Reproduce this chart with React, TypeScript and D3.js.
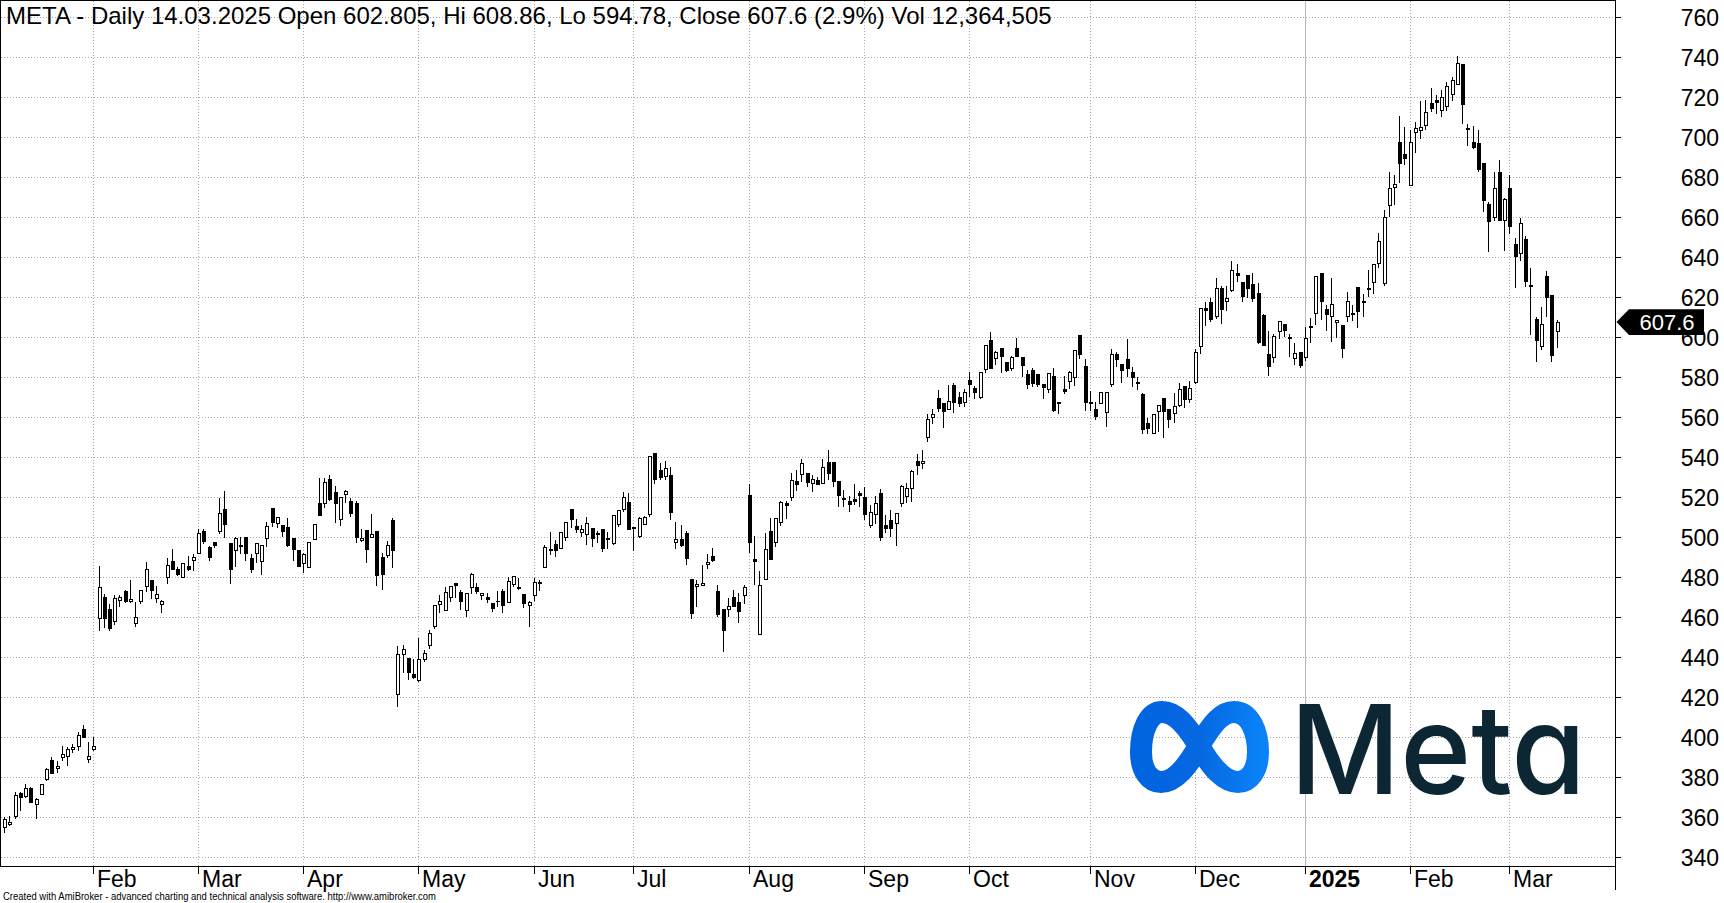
import React from 'react';
import * as d3 from 'd3';

const dates: string[] = [
  '2024-01-08','2024-01-09','2024-01-10','2024-01-11','2024-01-12','2024-01-16','2024-01-17','2024-01-18','2024-01-19','2024-01-22','2024-01-23','2024-01-24','2024-01-25','2024-01-26','2024-01-29','2024-01-30','2024-01-31',
  '2024-02-01','2024-02-02','2024-02-05','2024-02-06','2024-02-07','2024-02-08','2024-02-09','2024-02-12','2024-02-13','2024-02-14','2024-02-15','2024-02-16','2024-02-20','2024-02-21','2024-02-22','2024-02-23','2024-02-26','2024-02-27','2024-02-28','2024-02-29',
  '2024-03-01','2024-03-04','2024-03-05','2024-03-06','2024-03-07','2024-03-08','2024-03-11','2024-03-12','2024-03-13','2024-03-14','2024-03-15','2024-03-18','2024-03-19','2024-03-20','2024-03-21','2024-03-22','2024-03-25','2024-03-26','2024-03-27','2024-03-28',
  '2024-04-01','2024-04-02','2024-04-03','2024-04-04','2024-04-05','2024-04-08','2024-04-09','2024-04-10','2024-04-11','2024-04-12','2024-04-15','2024-04-16','2024-04-17','2024-04-18','2024-04-19','2024-04-22','2024-04-23','2024-04-24','2024-04-25','2024-04-26','2024-04-29','2024-04-30',
  '2024-05-01','2024-05-02','2024-05-03','2024-05-06','2024-05-07','2024-05-08','2024-05-09','2024-05-10','2024-05-13','2024-05-14','2024-05-15','2024-05-16','2024-05-17','2024-05-20','2024-05-21','2024-05-22','2024-05-23','2024-05-24','2024-05-28','2024-05-29','2024-05-30','2024-05-31',
  '2024-06-03','2024-06-04','2024-06-05','2024-06-06','2024-06-07','2024-06-10','2024-06-11','2024-06-12','2024-06-13','2024-06-14','2024-06-17','2024-06-18','2024-06-20','2024-06-21','2024-06-24','2024-06-25','2024-06-26','2024-06-27','2024-06-28',
  '2024-07-01','2024-07-02','2024-07-03','2024-07-05','2024-07-08','2024-07-09','2024-07-10','2024-07-11','2024-07-12','2024-07-15','2024-07-16','2024-07-17','2024-07-18','2024-07-19','2024-07-22','2024-07-23','2024-07-24','2024-07-25','2024-07-26','2024-07-29','2024-07-30','2024-07-31',
  '2024-08-01','2024-08-02','2024-08-05','2024-08-06','2024-08-07','2024-08-08','2024-08-09','2024-08-12','2024-08-13','2024-08-14','2024-08-15','2024-08-16','2024-08-19','2024-08-20','2024-08-21','2024-08-22','2024-08-23','2024-08-26','2024-08-27','2024-08-28','2024-08-29','2024-08-30',
  '2024-09-03','2024-09-04','2024-09-05','2024-09-06','2024-09-09','2024-09-10','2024-09-11','2024-09-12','2024-09-13','2024-09-16','2024-09-17','2024-09-18','2024-09-19','2024-09-20','2024-09-23','2024-09-24','2024-09-25','2024-09-26','2024-09-27','2024-09-30',
  '2024-10-01','2024-10-02','2024-10-03','2024-10-04','2024-10-07','2024-10-08','2024-10-09','2024-10-10','2024-10-11','2024-10-14','2024-10-15','2024-10-16','2024-10-17','2024-10-18','2024-10-21','2024-10-22','2024-10-23','2024-10-24','2024-10-25','2024-10-28','2024-10-29','2024-10-30','2024-10-31',
  '2024-11-01','2024-11-04','2024-11-05','2024-11-06','2024-11-07','2024-11-08','2024-11-11','2024-11-12','2024-11-13','2024-11-14','2024-11-15','2024-11-18','2024-11-19','2024-11-20','2024-11-21','2024-11-22','2024-11-25','2024-11-26','2024-11-27','2024-11-29',
  '2024-12-02','2024-12-03','2024-12-04','2024-12-05','2024-12-06','2024-12-09','2024-12-10','2024-12-11','2024-12-12','2024-12-13','2024-12-16','2024-12-17','2024-12-18','2024-12-19','2024-12-20','2024-12-23','2024-12-24','2024-12-26','2024-12-27','2024-12-30','2024-12-31',
  '2025-01-02','2025-01-03','2025-01-06','2025-01-07','2025-01-08','2025-01-10','2025-01-13','2025-01-14','2025-01-15','2025-01-16','2025-01-17','2025-01-21','2025-01-22','2025-01-23','2025-01-24','2025-01-27','2025-01-28','2025-01-29','2025-01-30','2025-01-31',
  '2025-02-03','2025-02-04','2025-02-05','2025-02-06','2025-02-07','2025-02-10','2025-02-11','2025-02-12','2025-02-13','2025-02-14','2025-02-18','2025-02-19','2025-02-20','2025-02-21','2025-02-24','2025-02-25','2025-02-26','2025-02-27','2025-02-28',
  '2025-03-03','2025-03-04','2025-03-05','2025-03-06','2025-03-07','2025-03-10','2025-03-11','2025-03-12','2025-03-13','2025-03-14',
];

const openPrices: number[] = [
  355, 356.5, 360.3, 372, 370.3, 374.2, 366.5, 371.5, 378.8, 388.2,
  384.3, 389.8, 390.3, 394, 395.2, 403.7, 388.8, 393.8, 459.5, 470,
  464, 457.8, 468.5, 473, 467.8, 457, 467.8, 475.3, 478.2, 469.3,
  466.5, 480, 488, 483.7, 480, 485.3, 488.3, 492, 503, 495,
  497.5, 502.8, 514, 497, 493.2, 495.7, 500, 489.2, 492, 488,
  499.5, 514.5, 507, 505.7, 505, 499.2, 493.2, 487, 485, 499,
  516.7, 517, 529, 522.3, 509, 521.2, 517.7, 516.7, 498.2, 503.2,
  500, 502.7, 489.7, 491, 508.2, 421.5, 441.5, 439.5, 431.2, 428.3,
  439, 446, 455.3, 466.5, 463.5, 470, 477, 472.5, 463.5, 475,
  475, 471, 470, 467, 468.1, 472.8, 467.3, 476.3, 474.7, 471.5,
  466, 471, 477.4, 484.7, 493.7, 496.2, 494.2, 500, 514, 505.3,
  502.5, 501.5, 504.5, 501.8, 503.7, 499.2, 496.8, 506.5, 514, 517.2,
  505, 500.3, 506.5, 511.5, 542, 533.5, 530.3, 531, 497.3, 498.7,
  501.7, 479, 475.2, 475.8, 486.3, 490.2, 472.7, 463.7, 464, 469.8,
  467.2, 471, 520.8, 489, 451.5, 479, 503, 497.5, 507.5, 517,
  519.8, 528, 531.5, 532, 527, 528.5, 527, 537.3, 537.3, 527.7,
  519.2, 517.8, 519, 521.7, 519.7, 506, 511.5, 522, 506, 508.2,
  507, 517, 520.3, 524.3, 537.7, 536.8, 550, 560, 569.3, 566.7,
  564, 575.7, 570, 567.5, 578.2, 574.5, 570, 583.7, 598.2, 589.5,
  594.2, 587.5, 584.5, 594.2, 590, 581.2, 583.2, 581.2, 576.2, 574,
  580.3, 567.5, 574, 577.8, 580, 601, 585.2, 567.5, 564, 567,
  562.3, 576.2, 591.5, 586.2, 588.7, 582.5, 577.2, 571.2, 557, 552,
  562.8, 569.5, 563.7, 562, 565.8, 575.3, 569, 577.5, 595.5, 614.2,
  617.5, 610.3, 624.2, 617.8, 623.3, 632, 627.5, 630.7, 626.5, 621.7,
  610.8, 591.2, 590, 602.8, 606.2, 600, 589.2, 592.5, 590, 604.8,
  612, 632, 613.7, 610.5, 607.5, 605.8, 610.5, 611.8, 624.7, 617.8,
  624.2, 627.5, 636.7, 627, 665.8, 675, 697.2, 691.2, 675.8, 702.5,
  703.3, 705.8, 717, 718.5, 713.3, 715.5, 721.3, 726.3, 736.2, 704.5,
  697.5, 697, 686.7, 666.2, 659.7, 682.5, 658.3, 674.2, 646.2, 641.7,
  648.7, 625.5, 608.7, 595.5, 630.2, 620.7, 602.805,
];

const highPrices: number[] = [
  360, 360.7, 372.8, 372.8, 376.7, 375, 369.5, 376.7, 384.5, 390,
  388.2, 395.7, 395.3, 396.7, 402.7, 406.2, 397.7, 400, 485.7, 471.6,
  466.6, 471.2, 471.2, 473.5, 478.7, 467.5, 473.8, 487.8, 478.5, 475.8,
  468.6, 489.8, 494.3, 485.3, 487.3, 490.7, 491.5, 504, 504, 495.5,
  497.8, 519.7, 523, 497.3, 500.3, 500.3, 500.3, 491.7, 497, 496.3,
  507.8, 514.5, 509.7, 505.7, 509.5, 499.2, 493.5, 492, 497.8, 506.8,
  529.5, 529.5, 531.2, 525.7, 520.3, 523.7, 519.5, 518.2, 504, 503.5,
  511.7, 503, 492, 498.2, 509.5, 445.7, 446.2, 439.5, 439, 449.5,
  443.7, 453.7, 465.9, 471.2, 475.3, 475.8, 477, 473.7, 472.3, 482,
  477, 472.3, 472, 467, 473.2, 474, 480.3, 480.8, 479.8, 471.5,
  468.2, 479.5, 478.8, 496.2, 502.5, 498.7, 502.8, 507.8, 514.3, 509,
  506.2, 510, 504.8, 503.3, 504, 502.8, 510.9, 513.5, 522.8, 522,
  505.3, 510, 510.5, 540.7, 542.3, 537, 538.3, 535.3, 507.7, 506.2,
  503.3, 479.3, 478.7, 486.2, 491.7, 494.7, 476.2, 464, 469.8, 473.7,
  472, 476.3, 526.7, 500.5, 483.2, 502, 509.5, 509.5, 518.2, 518.3,
  532, 533.7, 539.2, 532.2, 531.2, 530.3, 539, 543.7, 537.5, 528,
  523.7, 520.7, 526.7, 523.3, 525, 516.2, 520.8, 524, 511.2, 513.7,
  512.3, 526.2, 527.3, 533.7, 541.7, 543.7, 561.7, 564, 573.7, 567,
  576.2, 577, 572.8, 574, 582.8, 575.7, 582.8, 596.2, 602.8, 593.3,
  594.5, 587.8, 590.7, 599.5, 590.3, 583.7, 584.5, 581.2, 576.5, 582.3,
  584.5, 567.8, 580.7, 583.2, 593.5, 601.3, 589, 573.3, 567.8, 572.8,
  572.5, 594.2, 592.5, 586.5, 599.2, 585.3, 580, 572, 559.5, 561.4,
  565.9, 569.8, 563.9, 572, 577, 575.5, 578.2, 594.2, 614.5, 617.5,
  619.5, 629.7, 625.8, 625.5, 638.3, 636.7, 627.8, 631.2, 632.2, 627.2,
  611.7, 603.3, 601.7, 608, 606.4, 601.7, 597.2, 592.8, 605, 609.7,
  630.8, 632.3, 616.2, 629.7, 608.8, 606, 622.8, 616.2, 625, 621.7,
  633.8, 636.5, 652.2, 663.8, 682.5, 681.2, 710.5, 705, 703.7, 707.8,
  718.3, 718.8, 724.7, 721.2, 723.7, 727.5, 730, 740.5, 736.7, 706.7,
  705.5, 703.7, 687.2, 667.5, 682.5, 688.7, 669.7, 681.2, 649.5, 659.5,
  650.8, 634.7, 610.3, 615, 633.3, 621, 608.86,
];

const lowPrices: number[] = [
  352.3, 355.7, 359.3, 363.3, 369.5, 367, 359, 371.2, 378.3, 381.5,
  382.3, 388.3, 385.8, 392, 393.3, 399.5, 387.3, 393.3, 453.3, 454.5,
  453.3, 456.2, 465.3, 467, 467, 455.3, 466.5, 472.5, 469.3, 467,
  462.3, 476.5, 483.7, 480.8, 479.8, 483.2, 483, 491.7, 496.8, 488.3,
  494.5, 501.5, 499.8, 476.5, 485, 491.5, 488.3, 482, 487.3, 481.2,
  495.3, 505, 504.8, 500.3, 495.3, 488.3, 485, 482, 484.8, 498.8,
  510.5, 514.8, 518.3, 507, 505.7, 517.3, 510, 497.3, 497.5, 487.3,
  499.8, 475.8, 473.8, 489.5, 484.8, 415, 432, 428.7, 429.3, 427.5,
  437.8, 444.3, 454, 462, 463.3, 467.8, 469.8, 463.5, 460.3, 471.5,
  471.5, 468.7, 467.3, 462.8, 465, 462, 467.3, 475.3, 473.7, 464.8,
  455, 468.3, 473.3, 484.5, 491.2, 490.3, 494, 498.3, 504.5, 502,
  500.3, 496, 495.3, 497, 492.5, 494.2, 496.2, 505, 512.5, 503.5,
  493.3, 499.5, 506.2, 510.3, 526.7, 528.7, 528.7, 508.7, 494.2, 495.3,
  486.2, 459.3, 465, 475.5, 484.2, 487.5, 460.3, 442.8, 460, 465,
  457, 466.8, 492.3, 476.2, 451.3, 478.8, 488.8, 495, 505.8, 509.2,
  518.3, 523.3, 527.8, 525.3, 522.8, 526, 526.8, 528.7, 525.3, 515.3,
  515.3, 512.8, 516.2, 515.3, 508.7, 504.5, 506.7, 498.3, 502.3, 500.3,
  495.8, 515, 517.3, 517.8, 531.2, 534.2, 547.5, 556.5, 562.8, 554.5,
  563.8, 562.3, 565.3, 565.3, 570.3, 569.2, 569.2, 582, 584.3, 586.2,
  582, 582.8, 583.2, 590, 580.3, 574.2, 575.3, 575.3, 569.2, 572.3,
  562.5, 561.7, 571.7, 574.2, 575.8, 589.2, 563.3, 563.2, 558.7, 566.7,
  555.3, 575.3, 585.3, 577, 580.3, 575.3, 573.7, 551.5, 551.5, 551.7,
  552.8, 549.5, 554.8, 557, 565.3, 564.5, 567.3, 576.7, 591.7, 605.8,
  607.8, 609.2, 606.7, 613.3, 622.5, 627.8, 617.5, 619.5, 617.5, 596.7,
  595.5, 580.8, 587, 599.2, 600, 590.3, 586.2, 584.5, 588.3, 597,
  606, 608.8, 603.3, 597.8, 599.5, 589.5, 607.8, 608.3, 604.5, 610,
  620, 621.7, 634.5, 625.8, 660, 666.2, 677.2, 686.2, 675.5, 692,
  699.2, 703.8, 712.5, 711.7, 710, 713.3, 718.3, 726, 706.7, 695.5,
  694.2, 682.8, 662.8, 642.5, 658.3, 658, 643.3, 651.7, 624.5, 638.3,
  625, 601.2, 587.5, 593.8, 610, 587.5, 594.78,
];

const closePrices: number[] = [
  359, 357.5, 370.7, 369.8, 374.5, 367.3, 368.7, 376.2, 383.7, 381.8,
  385.5, 391.2, 393.7, 394.7, 401, 399.8, 390.2, 395.2, 475, 459.5,
  454.3, 469.3, 470, 467.8, 469, 460, 473.5, 484, 473.3, 471.5,
  468, 486, 484, 481.3, 487, 484, 490, 502, 497.8, 490,
  496, 512, 506.2, 483.7, 499.5, 495.3, 492, 484, 496.8, 496,
  505.5, 507.3, 509.7, 502.8, 495.7, 493.8, 485.3, 491.5, 497.5, 506.5,
  510.8, 527.5, 518.7, 516.7, 520, 522.8, 512, 499.8, 499.5, 494,
  501.5, 480.8, 481.3, 496, 493.3, 441.5, 443.7, 432.3, 429.8, 439,
  441.7, 452, 465.7, 468, 472.5, 475.5, 475.8, 467.8, 472, 481.5,
  472.8, 472, 468.7, 464.2, 467.9, 465.8, 477.8, 480.3, 474.5, 467,
  467.2, 477.5, 477, 495, 493.2, 493.2, 502.5, 507.5, 509, 503.7,
  504, 506.7, 499.5, 501.5, 494.5, 498.8, 510.7, 513.3, 519.7, 503.8,
  504.5, 509.5, 510, 540.2, 528.7, 529.8, 534.5, 512.3, 499, 495.8,
  489.3, 461.8, 476.2, 477, 487.5, 488.2, 461.3, 453.3, 465.3, 465.3,
  462.8, 475, 497.3, 487.8, 475.7, 494, 489, 509.3, 517.5, 515.8,
  528.5, 526.2, 537, 527.3, 529, 526.3, 535, 531.7, 527.8, 520.8,
  518.9, 516.2, 517.8, 520.7, 511.3, 512.5, 517, 500, 504.3, 504.3,
  512, 525.3, 524.3, 532.8, 535.7, 538, 559, 561.2, 564.5, 562.8,
  567.8, 567.3, 567, 572.5, 576.5, 572.3, 582.5, 596, 584.5, 592.5,
  590.3, 583.3, 590, 590.3, 585.8, 576.5, 577, 576.5, 575, 582,
  563.2, 567, 572.8, 582.3, 593.2, 591.2, 567.3, 567, 560.3, 572.5,
  572.3, 591.5, 589, 583.2, 584.5, 580, 577, 554, 554.5, 561.2,
  565.7, 562.8, 558.7, 565.3, 573.7, 569, 574.2, 592.5, 614.2, 613.5,
  608.8, 624.2, 613.8, 619.5, 633.2, 630.8, 620.3, 624.2, 619.5, 597.2,
  595.8, 585.5, 600.3, 607.8, 603.3, 599.5, 591.7, 585.8, 599.5, 605.2,
  630.5, 617.8, 611.2, 616.2, 608.5, 594.5, 617.8, 611.3, 613, 617.2,
  623.7, 636.3, 647.8, 660, 674.5, 676.5, 686.8, 689.5, 697.5, 704.5,
  705, 712.2, 714.2, 717.5, 720, 725.5, 728.5, 737, 716.3, 703.8,
  694.7, 683.7, 668.3, 657.8, 674.2, 658.3, 668.7, 655.3, 640.3, 656.7,
  627.8, 625.8, 598.3, 606.2, 620, 590.8, 607.6,
];

const priceTicks: number[] = [340, 360, 380, 400, 420, 440, 460, 480, 500, 520, 540, 560, 580, 600, 620, 640, 660, 680, 700, 720, 740, 760];
const monthNames: string[] = ['Jan', 'Feb', 'Mar', 'Apr', 'May', 'Jun', 'Jul', 'Aug', 'Sep', 'Oct', 'Nov', 'Dec'];
const titleText = 'META - Daily 14.03.2025 Open 602.805, Hi 608.86, Lo 594.78, Close 607.6 (2.9%) Vol 12,364,505';
const footerText = 'Created with AmiBroker - advanced charting and technical analysis software. http://www.amibroker.com';

const FONT = '"Liberation Sans", Arial, Helvetica, sans-serif';

export default function App() {
  const W = 1724;
  const H = 903;
  const plotRight = 1615.5;
  const plotBottom = 866.5;
  const n = dates.length;

  const x = d3.scaleLinear().domain([0, n - 1]).range([5.1, 1557.6]);
  const y = d3.scaleLinear().domain([340, 760]).range([857.3, 17.3]);

  const months: { i: number; label: string; year: boolean }[] = [];
  for (let i = 1; i < n; i++) {
    const m = dates[i].slice(5, 7);
    if (m !== dates[i - 1].slice(5, 7)) {
      const mi = +m;
      months.push({ i, label: mi === 1 ? dates[i].slice(0, 4) : monthNames[mi - 1], year: mi === 1 });
    }
  }

  const lastClose = closePrices[n - 1];
  const yl = y(lastClose);

  const gridColor = '#a9a9a9';

  return (
    <div style={{ position: 'absolute', left: 0, top: 0, width: W, height: H, background: '#fff' }}>
      <svg width={W} height={H} viewBox={`0 0 ${W} ${H}`} style={{ display: 'block' }}>
        <defs>
          <linearGradient id="metaGrad" gradientUnits="userSpaceOnUse" x1="1130" y1="0" x2="1270" y2="0">
            <stop offset="0" stopColor="#0064e0" />
            <stop offset="0.5" stopColor="#0668e1" />
            <stop offset="1" stopColor="#0a85fb" />
          </linearGradient>
        </defs>
        <rect x={0} y={0} width={W} height={H} fill="#fff" />

        {/* grid */}
        <g shapeRendering="crispEdges">
          {priceTicks.map((p) => (
            <line key={'h' + p} x1={1} x2={plotRight} y1={Math.round(y(p)) + 0.5} y2={Math.round(y(p)) + 0.5}
              stroke={gridColor} strokeWidth={1} strokeDasharray="1 2" />
          ))}
          {months.map((m) => {
            const xx = Math.round(x(m.i)) - 0.5;
            return m.year ? (
              <line key={'v' + m.i} x1={xx} x2={xx} y1={1} y2={plotBottom} stroke="#b8b8b8" strokeWidth={1} />
            ) : (
              <line key={'v' + m.i} x1={xx} x2={xx} y1={1} y2={plotBottom} stroke={gridColor} strokeWidth={1} strokeDasharray="1 2" />
            );
          })}
        </g>

        {/* Meta logo */}
        <g>
          <path
            d="M 1199 746 C 1213 722, 1222 712, 1234 712 C 1250 712, 1258 732, 1258 752 C 1258 771, 1249 782, 1238 782 C 1224 782, 1212 768, 1199 746 C 1186 724, 1175 712, 1162 712 C 1149 712, 1141 730, 1141 752 C 1141 771, 1150 782, 1161 782 C 1175 782, 1187 767, 1199 746 Z"
            fill="none" stroke="url(#metaGrad)" strokeWidth={22} strokeLinejoin="round" />
          <text x={1290} y={794} fontFamily="Inter, 'Noto Sans', sans-serif" fontWeight={500} fontSize={124}
            fill="#0c2733" textLength={296} lengthAdjust="spacingAndGlyphs"
            style={{ fontFeatureSettings: '"cv11"' }}>Meta</text>
        </g>

        {/* candles */}
        <g shapeRendering="crispEdges">
          {dates.map((d, i) => {
            const o = openPrices[i], h = highPrices[i], l = lowPrices[i], c = closePrices[i];
            const cx = Math.round(x(i));
            const up = c >= o;
            const top = y(Math.max(o, c));
            const bot = y(Math.min(o, c));
            return (
              <g key={d}>
                <line x1={cx - 0.5} x2={cx - 0.5} y1={y(h)} y2={y(l)} stroke="#000" strokeWidth={1} />
                <rect x={cx - 1.5} y={top} width={3} height={Math.max(bot - top, 0)}
                  fill={up ? '#fff' : '#000'} stroke="#000" strokeWidth={1} />
              </g>
            );
          })}
        </g>

        {/* frame and axes */}
        <g shapeRendering="crispEdges" stroke="#000" strokeWidth={1}>
          <line x1={0.5} x2={0.5} y1={0} y2={plotBottom} />
          <line x1={0} x2={plotRight} y1={0.5} y2={0.5} />
          <line x1={0} x2={plotRight} y1={plotBottom} y2={plotBottom} />
          <line x1={plotRight} x2={plotRight} y1={0} y2={890} />
          {priceTicks.map((p) => (
            <line key={'t' + p} x1={plotRight} x2={plotRight + 5} y1={Math.round(y(p)) + 0.5} y2={Math.round(y(p)) + 0.5} />
          ))}
          {months.map((m) => {
            const xx = Math.round(x(m.i)) - 0.5;
            return <line key={'mt' + m.i} x1={xx} x2={xx} y1={plotBottom} y2={plotBottom + 7} />;
          })}
        </g>

        {/* price labels */}
        <g fontFamily={FONT} fontSize={23} fill="#000">
          {priceTicks.map((p) => (
            <text key={'l' + p} x={1719} y={y(p) + 8.2} textAnchor="end">{p}</text>
          ))}
        </g>

        {/* month labels */}
        <g fontFamily={FONT} fontSize={23} fill="#000">
          {months.map((m) => (
            <text key={'ml' + m.i} x={Math.round(x(m.i)) + 3} y={887} fontWeight={m.year ? 700 : 400}>{m.label}</text>
          ))}
        </g>

        {/* last price marker */}
        <g>
          <polygon
            points={`${plotRight + 1},${yl} ${1629},${yl - 12.8} ${1704},${yl - 12.8} ${1704},${yl + 12.8} ${1629},${yl + 12.8}`}
            fill="#000" />
          <text x={1667} y={yl + 8} textAnchor="middle" fontFamily={FONT} fontSize={22} fill="#fff">{lastClose.toFixed(1)}</text>
        </g>

        {/* title */}
        <text x={6} y={23.5} fontFamily={FONT} fontSize={24} fill="#000">{titleText}</text>

        {/* footer */}
        <text x={3} y={900} fontFamily={'"Liberation Sans Narrow", "Arial Narrow", ' + FONT} fontSize={10} fill="#000"
          textLength={433} lengthAdjust="spacingAndGlyphs">{footerText}</text>
      </svg>
    </div>
  );
}
